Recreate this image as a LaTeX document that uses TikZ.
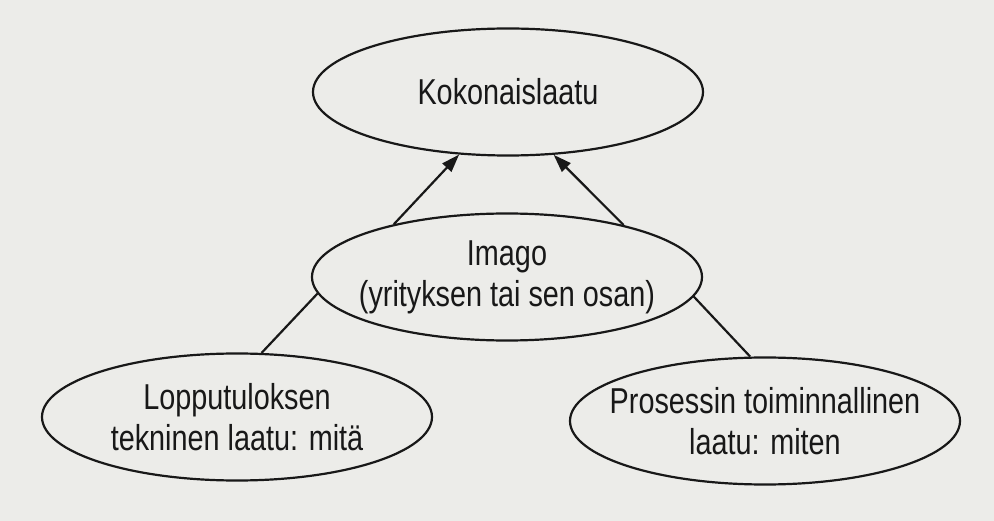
\documentclass[tikz,border=0pt]{standalone}
\usepackage{fontspec}
\setmainfont{Liberation Sans}[FakeStretch=0.8]
\usetikzlibrary{shapes.geometric,arrows.meta}
\definecolor{paper}{RGB}{236,236,233}
\definecolor{ink}{RGB}{24,24,24}
\tikzset{
  oval/.style={ellipse, draw=ink, line width=2.2pt, minimum width=390pt, minimum height=127pt, inner sep=0pt},
  txt/.style={text=ink, align=center, font=\fontsize{36pt}{41pt}\selectfont, inner sep=0pt},
  conn/.style={draw=ink, line width=2.2pt},
  arr/.style={conn, -{Triangle[length=18pt,width=12pt]}}
}
\begin{document}
\begin{tikzpicture}[x=1pt,y=-1pt]
\fill[paper] (0,0) rectangle (994,521);
\useasboundingbox (0,0) rectangle (994,521);
\node[oval] (top) at (508,92) {};
\node[oval] (mid) at (507,277) {};
\node[oval] (bl) at (237,417) {};
\node[oval] (br) at (765,421) {};
\node[txt] (ttop) at (top) {Kokonaislaatu};
\node[txt] (tmid) at (mid) {Imago\\(yrityksen tai sen osan)};
\node[txt] (tbl) at (bl) {Lopputuloksen\\tekninen laatu: mitä};
\node[txt] (tbr) at (br) {Prosessin toiminnallinen\\laatu: miten};
\draw[arr] (mid.155) -- (top.232);
\draw[arr] (mid.24) -- (top.306);
\draw[conn] (bl.69) -- (mid.185);
\draw[conn] (br.103) -- (mid.354);
\end{tikzpicture}
\end{document}
